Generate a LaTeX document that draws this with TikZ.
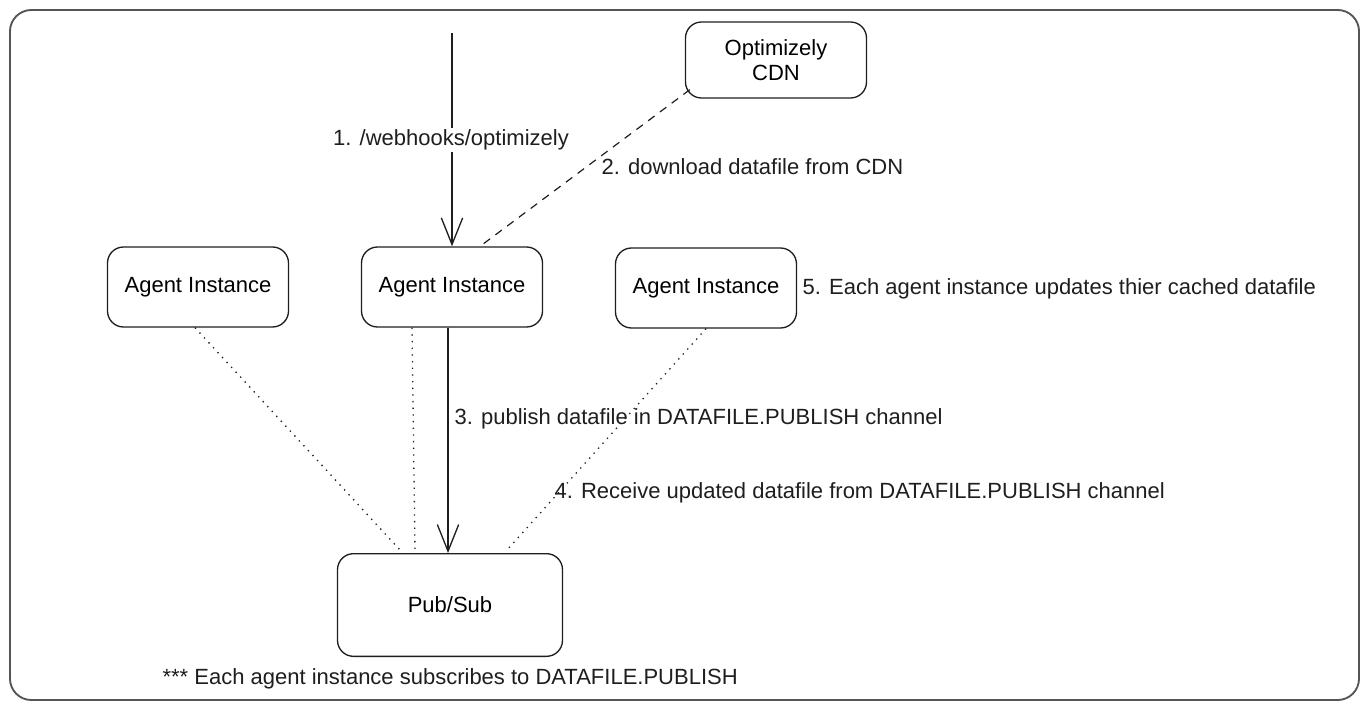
\documentclass[tikz,border=0pt]{standalone}
\usepackage{fontspec}
\setmainfont{Liberation Sans}
\usetikzlibrary{arrows.meta}

\definecolor{ink}{HTML}{1E1E1E}
\definecolor{framegray}{HTML}{555555}
\tikzset{
  box/.style={draw=ink, line width=1pt, rounded corners=12pt, minimum width=135.75pt, minimum height=60pt, inner sep=0pt, align=center, font=\fontsize{16.5}{19}\selectfont},
  note/.style={text=ink, inner sep=1pt, font=\fontsize{16.5}{19}\selectfont},
  flow/.style={draw=ink, line width=1pt, -{Straight Barb[length=20pt,width=16pt]}},
  dashline/.style={draw=ink, line width=0.9pt, dash pattern=on 6pt off 5pt},
  dotline/.style={draw=ink, line width=1pt, dash pattern=on 1pt off 4pt}
}

\begin{document}
\begin{tikzpicture}[x=0.75pt,y=-0.75pt]
\useasboundingbox (0,0) rectangle (1369,710);
%frame
\draw[framegray, line width=1.4pt, rounded corners=16pt] (10,10) rectangle (1359,700);
%boxes
\node[box, minimum height=57pt] (cdn) at (776,60) {Optimizely\\CDN};
\node[box] (agentA) at (198,287) {Agent Instance};
\node[box] (agentB) at (452,287) {Agent Instance};
\node[box] (agentC) at (706,288) {Agent Instance};
\node[box, minimum width=168.75pt, minimum height=77pt] (pubsub) at (450,605) {Pub/Sub};
%webhook
\coordinate (hook) at (452,33);
\draw[flow] (hook) -- (agentB.north);
%download
\draw[dashline] ([shift={(5,-9)}]cdn.south west) -- ([shift={(28,0)}]agentB.north);
%publish
\draw[flow] ([shift={(-4,0)}]agentB.south) -- ([shift={(-2,0)}]pubsub.north);
%subscriptions
\draw[dotline] ([shift={(-3,0)}]agentA.south) -- ([shift={(-50,-3)}]pubsub.north);
\draw[dotline] ([shift={(-40,0)}]agentB.south) -- ([shift={(-35,-3)}]pubsub.north);
\draw[dotline] (agentC.south) -- ([shift={(57,-3)}]pubsub.north);
%labels
\node[note, fill=white] (stepA) at (451,140) {1. /webhooks/optimizely};
\node[note, anchor=west] (stepB) at (600,167) {2. download datafile from CDN};
\node[note, anchor=west] (stepC) at (453,419) {3. publish datafile in DATAFILE.PUBLISH channel};
\node[note, anchor=west] (stepD) at (553,493) {4. Receive updated datafile from DATAFILE.PUBLISH channel};
\node[note, anchor=west] (stepE) at (801,289) {5. Each agent instance updates thier cached datafile};
\node[note, anchor=west] (subnote) at (161,679) {*** Each agent instance subscribes to DATAFILE.PUBLISH};
\end{tikzpicture}
\end{document}
